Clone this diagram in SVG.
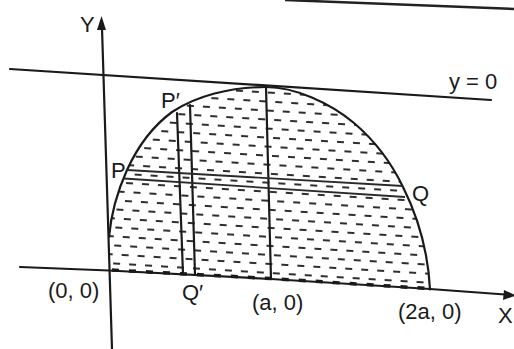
<svg xmlns="http://www.w3.org/2000/svg" width="514" height="349" viewBox="0 0 514 349">
<style>
.ln{stroke:#1a1a1a;stroke-width:2.2;fill:none;stroke-linecap:round}
.thin{stroke:#2a2a2a;stroke-width:1.8;fill:none}
.lbl{font-family:"Liberation Sans",Arial,sans-serif;font-size:22px;fill:#1a1a1a}
.ax{fill:#1a1a1a}
</style>
<defs>
<pattern id="dash" width="16" height="18" patternUnits="userSpaceOnUse" patternTransform="rotate(3.5)">
<line x1="1" y1="4" x2="8" y2="4" stroke="#222" stroke-width="1.9"/>
<line x1="9" y1="13" x2="16" y2="13" stroke="#222" stroke-width="1.9"/>
</pattern>
</defs>
<rect width="514" height="349" fill="#ffffff"/>
<g id="scan-line">
<line x1="285" y1="0" x2="514" y2="9" stroke="#222" stroke-width="2.5"/>
</g>
<g id="region">
<path d="M109.5,271 L109,237 C111,214 118,190 127,170 C138,146 153,126 172,112 C196,96 230,87 266,87 C295,87 330,103 354,123 C374,140 391,162 403,187 C417,215 428,250 430,289.5 L271,279 Z" fill="url(#dash)" stroke="none"/>
<path d="M109,237 C111,214 118,190 127,170 C138,146 153,126 172,112 C196,96 230,87 266,87 C295,87 330,103 354,123 C374,140 391,162 403,187 C417,215 428,250 430,289.5" class="ln"/>
<polyline points="112,270 271,278.5 428,288.5" fill="none" stroke="#1a1a1a" stroke-width="3.5" stroke-dasharray="7 10"/>
</g>
<g id="axes">
<polyline points="20,267 109,270.5 271,279 430,289 505,294.5" class="ln"/>
<polygon points="516,295.5 503,300 504,290" class="ax"/>
<line x1="102" y1="28" x2="112" y2="349" class="ln"/>
<polygon points="101.5,16 106,30 97,30" class="ax"/>
</g>
<g id="connectors">
<line id="tangent" x1="10" y1="69" x2="491" y2="100" class="ln"/>
<line id="line-a" x1="266" y1="87" x2="271" y2="279" class="ln"/>
<line id="strip-left" x1="177" y1="113" x2="183" y2="274" class="ln"/>
<line id="strip-right" x1="190" y1="105" x2="195" y2="275" class="ln"/>
<line id="pq-upper" x1="127" y1="170" x2="403" y2="186" class="thin"/>
<line id="pq-lower" x1="124" y1="178.5" x2="405" y2="197" class="thin"/>
</g>
<g id="labels">
<text class="lbl" x="80" y="32">Y</text>
<text class="lbl" x="449" y="89">y = 0</text>
<text class="lbl" x="161" y="108">P′</text>
<text class="lbl" x="111" y="178">P</text>
<text class="lbl" x="412" y="201">Q</text>
<text class="lbl" x="48" y="298">(0, 0)</text>
<text class="lbl" x="182" y="300">Q′</text>
<text class="lbl" x="252" y="310">(a, 0)</text>
<text class="lbl" x="398" y="319">(2a, 0)</text>
<text class="lbl" x="498" y="323">X</text>
</g>
</svg>
